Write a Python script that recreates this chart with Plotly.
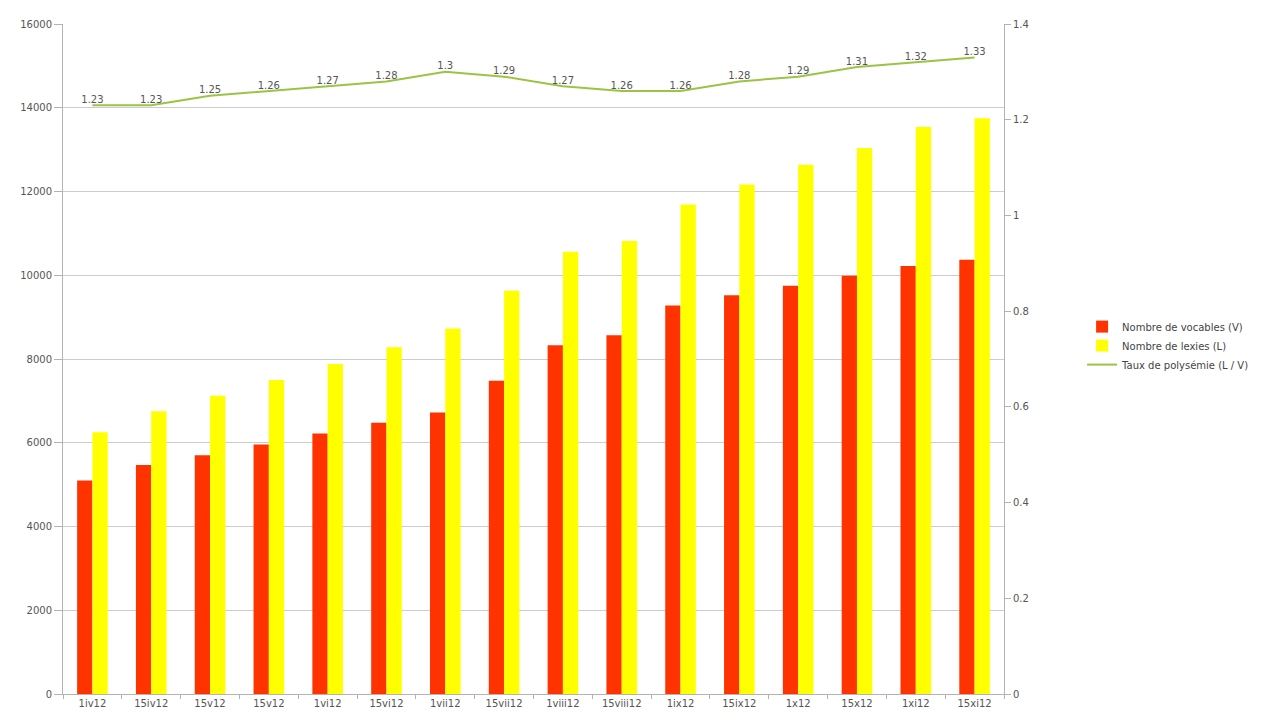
import plotly.graph_objects as go

# === Data
dates = ["1iv12", "15iv12", "15v12", "15v12", "1vi12", "15vi12", "1vii12", "15vii12",
         "1viii12", "15viii12", "1ix12", "15ix12", "1x12", "15x12", "1xi12", "15xi12"]
vocables = [5100, 5470, 5700, 5960, 6220, 6480, 6720, 7480,
            8330, 8570, 9280, 9520, 9750, 9990, 10220, 10370]
lexies = [6250, 6750, 7120, 7500, 7880, 8280, 8730, 9630,
          10560, 10820, 11690, 12170, 12640, 13040, 13540, 13750]
taux = [1.23, 1.23, 1.25, 1.26, 1.27, 1.28, 1.3, 1.29,
        1.27, 1.26, 1.26, 1.28, 1.29, 1.31, 1.32, 1.33]

x = list(range(len(dates)))
font = dict(family="DejaVu Sans", size=10, color="#555555")

fig = go.Figure()
fig.add_trace(go.Bar(x=x, y=vocables, name="Nombre de vocables (V)",
                     marker=dict(color="#ff3300", line=dict(width=0))))
fig.add_trace(go.Bar(x=x, y=lexies, name="Nombre de lexies (L)",
                     marker=dict(color="#ffff00", line=dict(width=0))))
fig.add_trace(go.Scatter(
    x=x, y=taux, name="Taux de polysémie (L / V)", yaxis="y2",
    mode="lines+text", text=[f"{t:g}" for t in taux], textposition="top center",
    textfont=dict(family="DejaVu Sans", size=10, color="#555555"),
    line=dict(color="#9cc444", width=2),
))

# page body adds an 8px margin, so the figure is a bit smaller than the window
fig.update_layout(
    width=1268, height=712,
    margin=dict(l=55, r=272, t=10, b=26),
    paper_bgcolor="white", plot_bgcolor="white",
    font=font,
    barmode="group", bargap=0.48, bargroupgap=0,
    showlegend=True,
    legend=dict(x=1.083, y=0.52, xanchor="left", yanchor="middle",
                font=dict(family="DejaVu Sans", size=10, color="#444444"),
                tracegroupgap=0, itemwidth=30),
    xaxis=dict(
        range=[-0.5, len(dates) - 0.5], tickvals=x, ticktext=dates,
        ticks="", showgrid=False, zeroline=False,
        showline=True, linecolor="#b3b3b3", linewidth=1,
        minor=dict(tickvals=[i - 0.5 for i in range(len(dates) + 1)],
                   ticks="outside", ticklen=4, tickcolor="#b3b3b3", showgrid=False),
    ),
    yaxis=dict(
        range=[0, 16000], dtick=2000, tickformat="d",
        showgrid=True, gridcolor="#cccccc", gridwidth=1, zeroline=False,
        showline=True, linecolor="#b3b3b3", linewidth=1,
        ticks="outside", ticklen=8, tickcolor="#b3b3b3",
    ),
    yaxis2=dict(
        range=[0, 1.4], dtick=0.2, overlaying="y", side="right",
        showgrid=False, zeroline=False,
        showline=True, linecolor="#b3b3b3", linewidth=1,
        ticks="outside", ticklen=6, tickcolor="#b3b3b3",
    ),
)

fig.write_html("out.html")
